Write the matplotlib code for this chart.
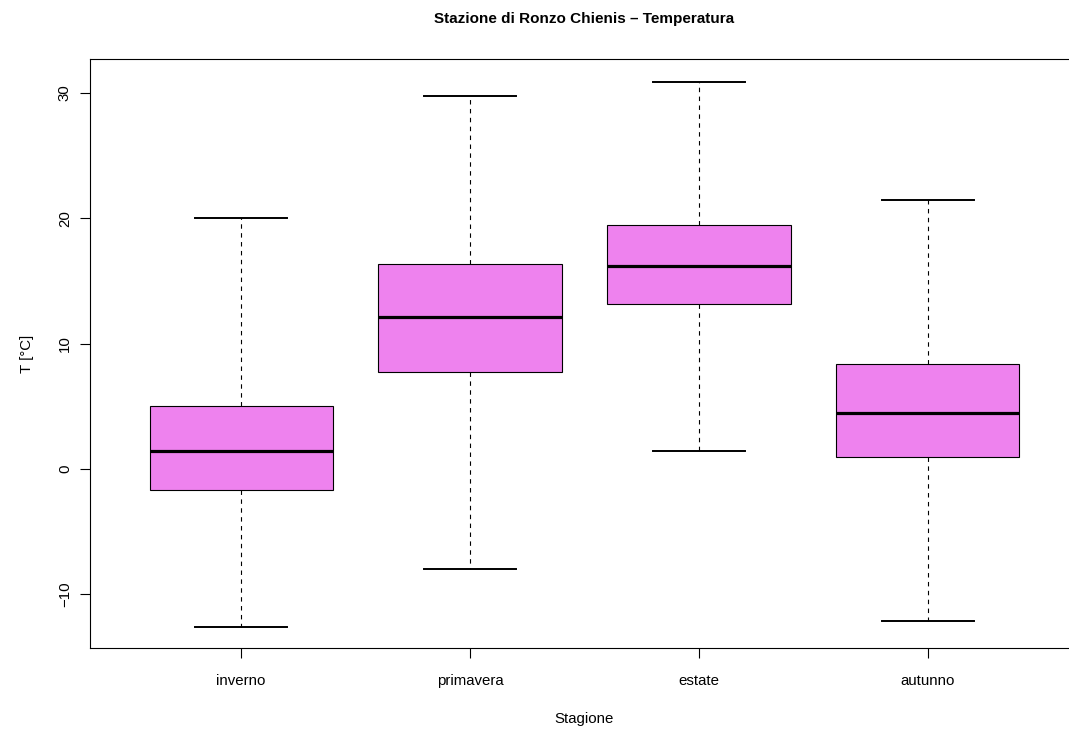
import matplotlib
matplotlib.use("Agg")
import matplotlib.pyplot as plt

stagioni = ["inverno", "primavera", "estate", "autunno"]
whislo = [-12.6, -8.0, 1.4, -12.1]
q1 = [-1.65, 7.75, 13.2, 1.0]
med = [1.4, 12.1, 16.2, 4.5]
q3 = [5.0, 16.4, 19.5, 8.4]
whishi = [20.0, 29.8, 30.9, 21.5]

plt.rcParams['font.family'] = ['Liberation Sans', 'DejaVu Sans']

stats = []
for i, s in enumerate(stagioni):
    stats.append(dict(label=s, whislo=whislo[i], q1=q1[i], med=med[i],
                      q3=q3[i], whishi=whishi[i], fliers=[]))

fig = plt.figure(figsize=(10.69, 7.31), dpi=100)
ax = fig.add_axes([90/1069, 83/731, 989/1069, 589/731])

ax.bxp(stats, positions=range(1, 5), widths=0.8, patch_artist=True,
       showfliers=False,
       boxprops=dict(facecolor='#EE82EE', edgecolor='black', linewidth=0.8),
       medianprops=dict(color='black', linewidth=2.3, solid_capstyle='butt'),
       whiskerprops=dict(color='black', linewidth=0.8, linestyle=(0, (4, 4))),
       capprops=dict(color='black', linewidth=1.4),
       capwidths=0.4)

ax.set_xlim(0.34, 4.66)
ax.set_ylim(-14.28, 32.72)
ax.set_yticks([-10, 0, 10, 20, 30])
ax.set_yticklabels(['\u221210', '0', '10', '20', '30'], rotation=90, va='center')
ax.tick_params(axis='both', labelsize=10.8, length=7, width=0.8, pad=6)
ax.tick_params(axis='x', pad=12)
for sp in ax.spines.values():
    sp.set_linewidth(0.8)

ax.set_title("Stazione di Ronzo Chienis \u2013 Temperatura", fontsize=11,
             fontweight='bold', pad=26)
ax.set_xlabel("Stagione", fontsize=10.8, labelpad=17)
ax.set_ylabel("T [°C]", fontsize=10.8, labelpad=17)

fig.savefig("out.png", dpi=100)
